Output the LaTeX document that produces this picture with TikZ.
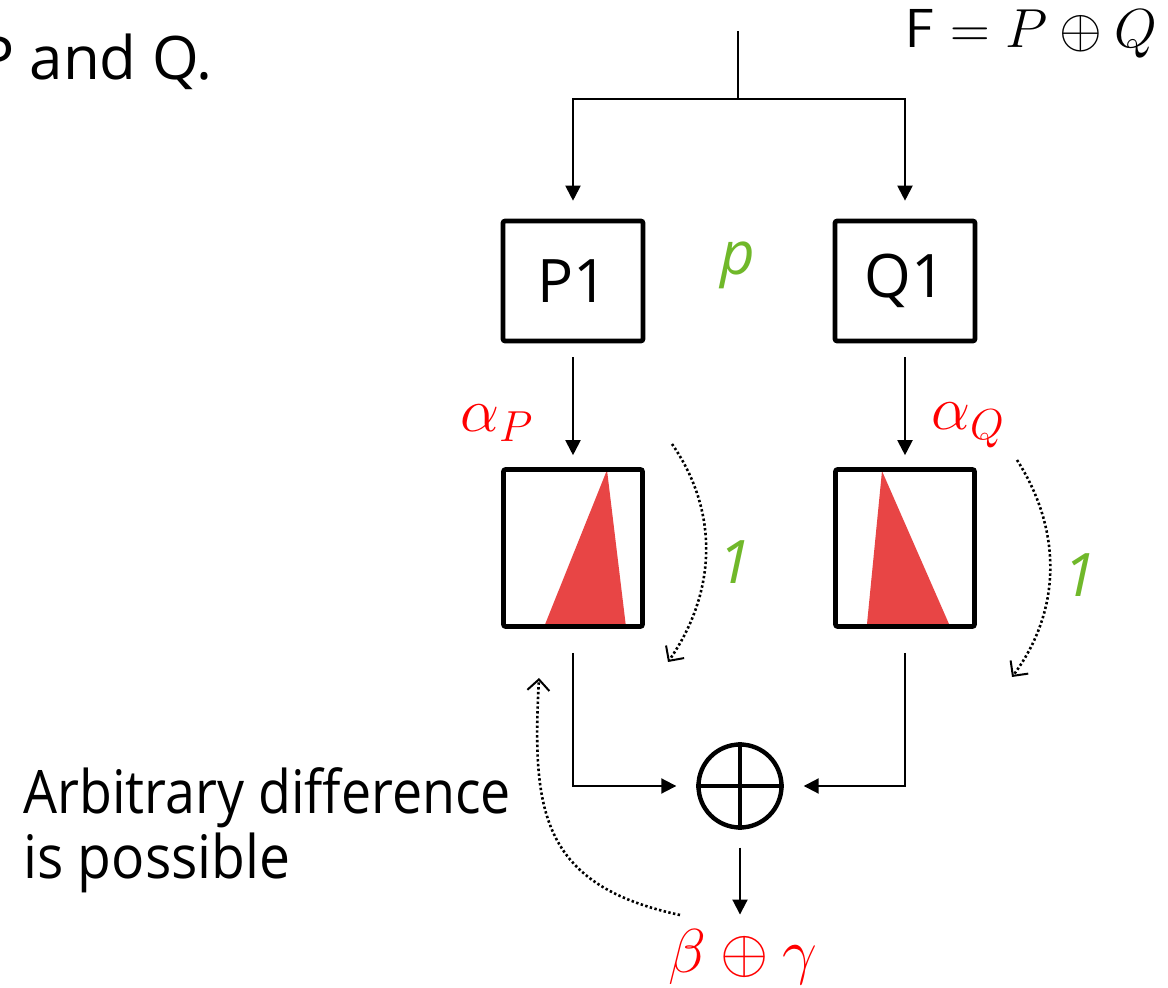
\RequirePackage{fix-cm}
\documentclass[tikz,border=0pt]{standalone}
\usepackage{fontspec}
\usetikzlibrary{arrows.meta}
\newfontfamily\osans{Open Sans}
\definecolor{tri}{RGB}{232,69,69}
\definecolor{grn}{RGB}{112,184,42}
\tikzset{
  box/.style={draw, line width=2.3pt, rounded corners=1pt, inner sep=0pt},
  ln/.style={line width=1pt},
  arr/.style={line width=1pt, -{Triangle[length=7.5pt,width=7.5pt]}},
  dots/.style={line width=1.3pt, dash pattern=on 1.2pt off 1.2pt, -{Straight Barb[length=5.5pt,width=11pt,line width=1pt]}},
  big/.style={font=\osans\fontsize{30}{36}\selectfont},
  gr/.style={text=grn, font=\osans\itshape\fontsize{30}{36}\selectfont, inner sep=0pt},
  rd/.style={text=red, font=\fontsize{31}{36}\selectfont, inner sep=0pt},
}
\begin{document}
\begin{tikzpicture}[x=0.5pt,y=-0.5pt]
\clip (0,0) rectangle (1168,988);
\fill[white] (0,0) rectangle (1168,988);
% texts
\node[big, anchor=base east, inner sep=0pt] (title) at (213,80) {P and Q.};
\node[anchor=base east, inner sep=0pt, font=\fontsize{27.5}{32}\selectfont] (formula) at (1158,48) {$\mathsf{F} = P \oplus Q$};
\node[big, anchor=base west, inner sep=0pt] (arb1) at (23,813) {\scalebox{0.895}[1]{Arbitrary difference}};
\node[big, anchor=base west, inner sep=0pt] (arb2) at (23,878) {\scalebox{0.92}[1]{is possible}};
% triangles
\fill[tri] (544,627) -- (607,470) -- (626,627) -- cycle;
\fill[tri] (882,471) -- (867,624) -- (949,624) -- cycle;
% boxes
\node[box, big, minimum width=70pt, minimum height=60pt] (P1) at (573,281) {P1};
\node[box, big, minimum width=70pt, minimum height=60pt] (Q1) at (905,281) {Q1};
\node[box, minimum width=69.5pt, minimum height=78.5pt] (PS) at (573,548) {};
\node[box, minimum width=69.5pt, minimum height=78.5pt] (QS) at (905,548) {};
\node[draw, circle, line width=2.2pt, minimum size=41.5pt, inner sep=0pt] (xor) at (740,786) {};
\draw[line width=2.2pt] (xor.north) -- (xor.south) (xor.west) -- (xor.east);
% labels
\node[gr, anchor=base] (p) at (738,275) {p};
\node[gr, anchor=base] (oneP) at (735,584) {1};
\node[gr, anchor=base] (oneQ) at (1080,597) {1};
\node[rd, anchor=base west] (aP) at (460,432) {$\alpha_P$};
\node[rd, anchor=base west] (aQ) at (931,430) {$\alpha_Q$};
\node[rd, anchor=base] (out) at (743,972) {$\beta \oplus \gamma$};
% connectors
\coordinate (in) at (738,31);
\coordinate (split) at (738,99);
\draw[ln] (in) -- (split);
\draw[arr, shorten >=9pt] (split) -| (P1.north);
\draw[arr, shorten >=9pt] (split) -| (Q1.north);
\draw[arr, shorten <=7pt, shorten >=6pt] (P1) -- (PS);
\draw[arr, shorten <=7pt, shorten >=6pt] (Q1) -- (QS);
\draw[arr, shorten <=12pt, shorten >=10pt] (PS.south) |- (xor);
\draw[arr, shorten <=12pt, shorten >=10pt] (QS.south) |- (xor);
\draw[arr, shorten <=9pt, shorten >=7pt] (xor.south) -- (xor.south |- out.north);
% dotted curves
\coordinate (d1s) at (672,444); \coordinate (d1e) at (668,662);
\coordinate (d2s) at (1017,460); \coordinate (d2e) at (1012,677);
\coordinate (d3s) at (680,915); \coordinate (d3e) at (539,678);
\draw[dots] (d1s) .. controls (718,510) and (718,590) .. (d1e);
\draw[dots] (d2s) .. controls (1062,530) and (1062,610) .. (d2e);
\draw[dots] (d3s) .. controls (540,885) and (532,810) .. (d3e);
\end{tikzpicture}
\end{document}
